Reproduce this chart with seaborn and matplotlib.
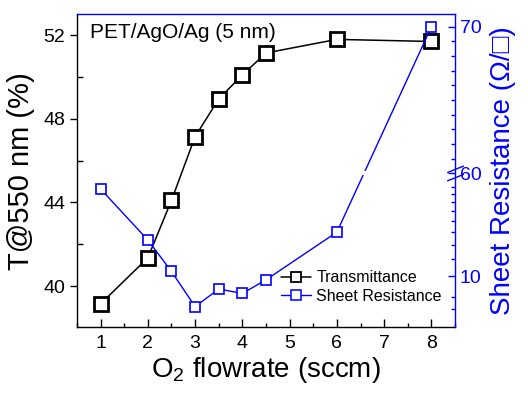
import numpy as np
import matplotlib
matplotlib.use("Agg")
import matplotlib.pyplot as plt
import matplotlib.transforms as mtransforms
from matplotlib.lines import Line2D
from matplotlib.path import Path
from matplotlib.ticker import FixedLocator, MultipleLocator
import seaborn as sns

# data
flowrate = [1, 2, 2.5, 3, 3.5, 4, 4.5, 6, 8]
transmittance = [39.15, 41.35, 44.1, 47.15, 48.95, 50.1, 51.15, 51.8, 51.7]
sheet_res = [25.4, 14.7, 10.5, 7.2, 8.7, 8.3, 9.6, 16.0, 70.0]

x_ticks = [1, 2, 3, 4, 5, 6, 7, 8]
t_ticks = [40, 44, 48, 52]
r_major = [10, 60, 70]
r_minor = [7, 8, 12, 14, 16, 18, 20, 22, 24, 26] + list(range(61, 70))

sns.set_theme(style="ticks")
plt.rcParams.update({
    'font.family': ['Liberation Sans', 'DejaVu Sans'],
    'mathtext.fontset': 'custom',
    'mathtext.rm': 'Liberation Sans',
    'axes.linewidth': 1.0,
    'text.color': 'black',
    'axes.labelcolor': 'black',
    'axes.edgecolor': 'black',
    'xtick.color': 'black',
    'ytick.color': 'black',
})

# broken right axis: log segment up to 30, linear segment from 60
LOW_TOP, HIGH_BOT = 30.0, 60.0
UP = 14.67 / 215.0  # decades per unit in upper segment
HB = np.log10(LOW_TOP / 10)


def fwd(v):
    v = np.asarray(v, dtype=float)
    lo = np.log10(np.clip(v, 1e-3, LOW_TOP) / 10)
    hi = HB + np.clip(v - HIGH_BOT, 0, None) * UP
    return np.where(v <= LOW_TOP, lo, hi)


def inv(h):
    h = np.asarray(h, dtype=float)
    lo = 10 * 10 ** np.minimum(h, HB)
    hi = HIGH_BOT + (h - HB) / UP
    return np.where(h <= HB, lo, hi)


fig = plt.figure(figsize=(5.28, 3.94), dpi=100)
ax = fig.add_axes([0.1458, 0.170, 0.716, 0.7937])
ax2 = ax.twinx()
ax2.set_yscale('function', functions=(fwd, inv))

sns.lineplot(x=flowrate, y=transmittance, ax=ax, color='black', lw=1.1,
             marker='s', markersize=10, markerfacecolor='white',
             markeredgecolor='black', markeredgewidth=2.0)
sns.lineplot(x=flowrate, y=sheet_res, ax=ax2, color='blue', lw=1.0,
             marker='s', markersize=7.5, markerfacecolor='white',
             markeredgecolor='blue', markeredgewidth=1.2)

# left / bottom axes
ax.set_xlim(0.5, 8.5)
ax.set_ylim(38.04, 53.0)
ax.set_xticks(x_ticks)
ax.xaxis.set_minor_locator(MultipleLocator(0.5))
ax.set_yticks(t_ticks)
ax.yaxis.set_minor_locator(MultipleLocator(2))
ax.tick_params(axis='x', which='both', direction='in', labelsize=14, pad=6)
ax.tick_params(axis='x', which='major', length=6, width=1)
ax.tick_params(axis='x', which='minor', length=3, width=1)
ax.tick_params(axis='y', which='major', direction='out', length=5, width=1, labelsize=14)
ax.tick_params(axis='y', which='minor', direction='in', length=4, width=1)
ax.set_xlabel(r"O$_\mathrm{2}$ flowrate (sccm)", fontsize=20, labelpad=2)
ax.set_ylabel("T@550 nm (%)", fontsize=21, labelpad=6)
ax.spines['top'].set_visible(False)
ax.spines['right'].set_visible(False)

# right axis
ax2.set_ylim(5.79, 70.85)
ax2.yaxis.set_major_locator(FixedLocator(r_major))
ax2.yaxis.set_minor_locator(FixedLocator(r_minor))
ax2.set_yticklabels([str(v) for v in r_major])
ax2.tick_params(axis='y', which='both', direction='in', colors='blue', labelsize=14)
ax2.tick_params(axis='y', which='major', length=5, width=1)
ax2.tick_params(axis='y', which='minor', length=3, width=1)
ax2.set_ylabel("Sheet Resistance (Ω/□)", fontsize=20, color='blue', labelpad=6)
ax2.spines['right'].set_color('blue')
ax2.spines['top'].set_color('blue')
ax2.spines['left'].set_visible(False)
ax2.spines['bottom'].set_visible(False)

# gap in the line and // mark at the break
ax2.axhline(LOW_TOP, xmin=0.74, xmax=0.80, color='white', lw=3, zorder=3)
brk = Path([(-1, -0.9), (1, -0.1), (-1, 0.1), (1, 0.9)],
           [Path.MOVETO, Path.LINETO, Path.MOVETO, Path.LINETO])
trans = mtransforms.blended_transform_factory(ax2.transAxes, ax2.transData)
ax2.plot([1], [LOW_TOP], transform=trans, marker=brk, markersize=12,
         color='blue', mew=1.0, ls='none', clip_on=False)

ax.text(0.034, 0.943, "PET/AgO/Ag (5 nm)", transform=ax.transAxes,
        fontsize=15, va='center', ha='left')

handles = [
    Line2D([], [], color='black', lw=1.1, marker='s', ms=7, mfc='white', mew=1.3),
    Line2D([], [], color='blue', lw=1.0, marker='s', ms=7, mfc='white', mew=1.1),
]
ax2.legend(handles, ["Transmittance", "Sheet Resistance"], loc='center left',
           bbox_to_anchor=(0.54, 0.128), frameon=False, fontsize=11.5,
           borderpad=0, borderaxespad=0, handlelength=1.9, handletextpad=0.3,
           labelspacing=0.2)

fig.savefig("out.png", dpi=100)
